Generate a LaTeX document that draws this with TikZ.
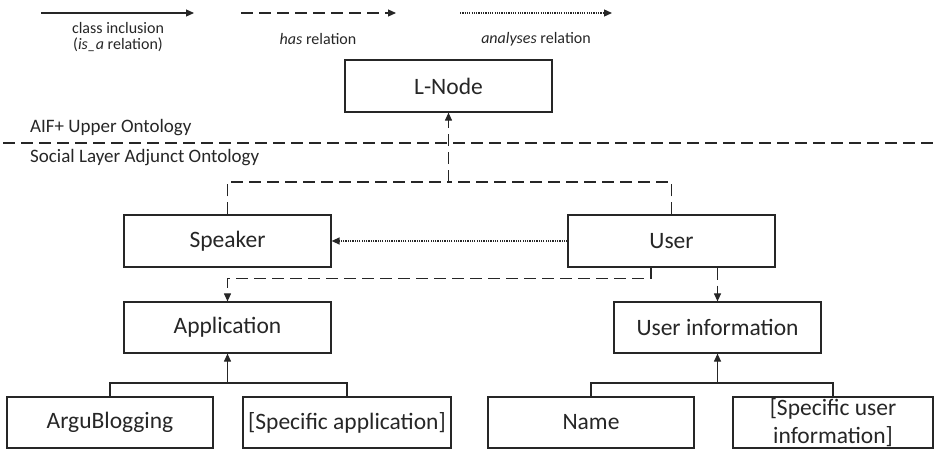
\documentclass[tikz,border=0pt]{standalone}
\usepackage{fontspec}
\setmainfont{Carlito}
\usetikzlibrary{arrows.meta}
\definecolor{ink}{HTML}{262626}
\tikzset{
  box/.style={draw=ink, line width=1.2pt, fill=white, minimum width=207pt, minimum height=52pt, inner sep=0pt, align=center, text=ink, font=\fontsize{23.5}{28}\selectfont},
  conn/.style={draw=ink, line width=1.1pt},
  tip/.style={-{Triangle[length=8pt,width=7pt]}},
  isarel/.style={conn},
  hasrel/.style={conn, dash pattern=on 12pt off 6pt},
  anarel/.style={conn, line width=1.3pt, dash pattern=on 1.2pt off 1.1pt},
  legtext/.style={text=ink, align=center, inner sep=0pt, font=\fontsize{16}{16}\selectfont},
  laytext/.style={text=ink, anchor=west, inner sep=0pt, font=\fontsize{19}{22}\selectfont},
}
\begin{document}
\begin{tikzpicture}[x=1pt,y=-1pt]
\useasboundingbox (0,0) rectangle (934,452);
% legend
\coordinate (l1a) at (41,13); \coordinate (l1b) at (194,13);
\coordinate (l2a) at (241,13); \coordinate (l2b) at (396,13);
\coordinate (l3a) at (460,13); \coordinate (l3b) at (612,13);
\draw[isarel,tip] (l1a) -- (l1b);
\draw[hasrel,tip] (l2a) -- (l2b);
\draw[anarel,tip] (l3a) -- (l3b);
\node[legtext] (lt1) at (118,37.5) {class inclusion\\(\textit{is\_a} relation)};
\node[legtext] (lt2) at (318,39.5) {\textit{has} relation};
\node[legtext] (lt3) at (536,39.5) {\textit{analyses} relation};
% separator
\coordinate (sepa) at (3,143); \coordinate (sepb) at (934,143);
\draw[hasrel] (sepa) -- (sepb);
\node[laytext] (upper) at (30,128) {AIF+ Upper Ontology};
\node[laytext] (lower) at (30,158) {Social Layer Adjunct Ontology};
% boxes
\node[box] (lnode) at (448.5,86) {L-Node};
\node[box] (speaker) at (227.5,241) {Speaker};
\node[box] (user) at (671.5,241) {User};
\node[box, minimum height=51pt] (app) at (227.5,327.5) {Application};
\node[box, minimum height=51pt] (uinfo) at (717.5,327.5) {User information};
\node[box, minimum height=51pt, minimum width=206pt] (argu) at (110,422.5) {ArguBlogging};
\node[box, minimum height=51pt, minimum width=208pt] (sapp) at (347,422.5) {[Specific application]};
\node[box, minimum height=51pt, minimum width=206pt] (name) at (591,422.5) {Name};
\node[box, minimum height=51pt, minimum width=200pt] (sui) at (833,422.5) {[Specific user\\information]};
% has relations to L-Node
\coordinate (jtop) at (448.5,182);
\draw[hasrel] (speaker.north) |- (jtop);
\draw[hasrel] (user.north) |- (jtop);
\draw[hasrel,tip] (jtop) -- (lnode.south);
% analyses
\draw[anarel,tip] (user.west) -- (speaker.east);
% user has application / user information
\draw[hasrel,tip] ([xshift=-20.5pt]user.south) |- ([yshift=23pt]app.north) -- (app.north);
\draw[hasrel,tip] (user.south -| uinfo.north) -- (uinfo.north);
% class inclusion trees
\coordinate (ta) at (227.5,383);
\coordinate (tb) at (717.5,383);
\draw[isarel] (argu.north) |- (ta) -| (sapp.north);
\draw[isarel,tip] (ta) -- (app.south);
\draw[isarel] (name.north) |- (tb) -| (sui.north);
\draw[isarel,tip] (tb) -- (uinfo.south);
\end{tikzpicture}
\end{document}
